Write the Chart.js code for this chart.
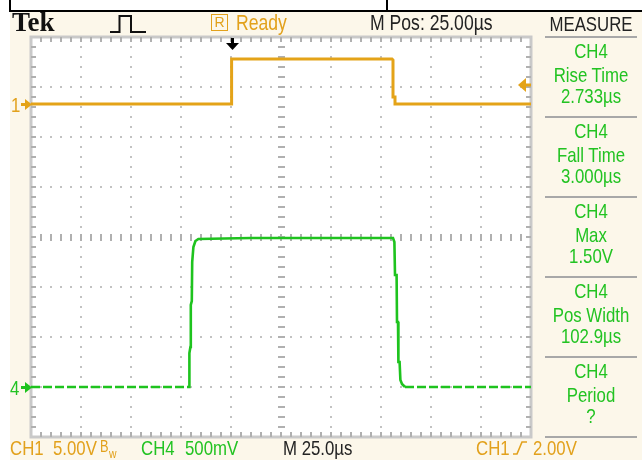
<!DOCTYPE html>
<html>
<head>
<meta charset="utf-8">
<script src="https://cdn.jsdelivr.net/npm/chart.js@4.4.1/dist/chart.umd.min.js"></script>
<style>
  body { margin: 0; background: #fff; }
  #wrap { position: relative; width: 642px; height: 460px; overflow: hidden; }
  #scope { position: absolute; left: 0; top: 0; }
  .t { position: absolute; white-space: nowrap; line-height: 1; transform: scaleX(0.8); transform-origin: 0 0;
       font-family: "Liberation Sans", Arial, sans-serif; }
  .t.c { transform-origin: 50% 0; }
  .rbox { position: absolute; left: 211px; top: 14px; width: 15px; height: 15px; border: 1.5px solid #e2a11c;
          color: #e2a11c; font: 14px/15px "Liberation Sans", sans-serif; text-align: center; }
</style>
</head>
<body>
<div id="wrap">
  <canvas id="scope" width="642" height="460"></canvas>
  <div id="labels"></div>
  <div class="rbox">R</div>
  <svg width="642" height="460" style="position:absolute;left:0;top:0;pointer-events:none">
    <polyline points="110,32 119.5,32 119.5,16 131,16 131,32 146,32" fill="none" stroke="#111" stroke-width="2"/>
    <polyline points="513,454 517,454 522,442 527,442" fill="none" stroke="#e2a11c" stroke-width="1.6"/>
  </svg>
</div>
<script>
// time in µs relative to trigger, 25 µs/div, M Pos 25 µs
const timeDivs = [-100, -75, -50, -25, 0, 25, 50, 75, 100, 125, 150];
// CH4 volts, 500 mV/div (ground 3 div below centre)
const voltDivs = [-0.5, 0, 0.5, 1, 1.5, 2, 2.5, 3, 3.5];

// CH1 trace, 5 V/div
const ch1Time  = [-100, 0, 0.3, 80.5, 81, 81, 82, 82, 150];
const ch1Volts = [0, 0, 4.5, 4.5, 4.4, 0.7, 0.7, 0, 0];

// CH4 trace, 500 mV/div
const ch4Time  = [-100, -21, -20.8, -20.3, -20.1, -19.6, -19.4, -18.8, -17.8, -16.3, 10, 40, 81, 81.7, 82, 82.8, 83, 83.5, 83.7, 84.3, 84.7, 85.5, 87, 150];
const ch4Volts = [0, 0, 0.34, 0.4, 0.82, 0.86, 1.25, 1.4, 1.46, 1.48, 1.49, 1.49, 1.49, 1.45, 1.12, 1.12, 0.65, 0.65, 0.25, 0.25, 0.07, 0.03, 0, 0];

const measureNames  = ['Rise Time', 'Fall Time', 'Max', 'Pos Width', 'Period'];
const measureValues = ['2.733µs', '3.000µs', '1.50V', '102.9µs', '?'];

const ORANGE = '#e4a318';
const ORANGE_TXT = '#e2a11c';
const GREEN = '#1ec31e';
const GREEN_TXT = '#22c322';

const pts = (xs, ys) => xs.map((v, i) => ({ x: v, y: ys[i] }));

const scopeFrame = {
  id: 'scopeFrame',
  beforeDraw(chart) {
    const { ctx, chartArea: a, scales: { x, y4 } } = chart;
    ctx.save();
    ctx.fillStyle = '#fff';
    ctx.fillRect(0, 0, chart.width, chart.height);
    ctx.fillStyle = '#fcf7ea';
    ctx.fillRect(10, 12, chart.width - 10, chart.height - 12);
    ctx.fillStyle = '#fff';
    ctx.fillRect(a.left, a.top, a.width, a.height);
    // bits of the page border caught in the screenshot
    ctx.fillStyle = '#000';
    ctx.fillRect(10, 10, chart.width - 10, 2);
    ctx.fillRect(9, 0, 2, 12);
    ctx.fillRect(386, 0, 2, 12);

    const cx = Math.round(x.getPixelForValue(25));
    const cy = Math.round(y4.getPixelForValue(1.5));
    // dotted division lines
    ctx.fillStyle = '#c2c2c2';
    timeDivs.slice(1, -1).forEach(t => {
      const px = Math.round(x.getPixelForValue(t));
      if (px === cx) return;
      for (let py = a.top + 10; py < a.bottom; py += 10) ctx.fillRect(px - 1, py - 1, 2, 2);
    });
    voltDivs.slice(1, -1).forEach(v => {
      const py = Math.round(y4.getPixelForValue(v));
      if (py === cy) return;
      for (let px = a.left + 10; px < a.right; px += 10) ctx.fillRect(px - 1, py - 1, 2, 2);
    });
    // centre lines with ticks
    ctx.fillStyle = '#b0b0b0';
    for (let py = a.top + 10; py < a.bottom; py += 10) ctx.fillRect(cx - 3, py - 1, 7, 2);
    for (let px = a.left + 10; px < a.right; px += 10) ctx.fillRect(px - 1, cy - 3, 2, 7);
    // border and edge ticks
    ctx.strokeStyle = '#c9c9c9';
    ctx.lineWidth = 3;
    ctx.strokeRect(a.left, a.top, a.width, a.height);
    ctx.fillStyle = '#b0b0b0';
    for (let py = a.top + 10; py < a.bottom; py += 10) {
      ctx.fillRect(a.left, py - 1, 5, 2);
      ctx.fillRect(a.right - 5, py - 1, 5, 2);
    }
    for (let px = a.left + 10; px < a.right; px += 10) {
      ctx.fillRect(px - 1, a.top, 2, 5);
      ctx.fillRect(px - 1, a.bottom - 5, 2, 5);
    }
    ctx.restore();
  },
  afterDatasetsDraw(chart) {
    const { ctx, chartArea: a, scales: { x, y1, y4 } } = chart;
    ctx.save();
    // ground markers
    const mark = (py, col) => {
      ctx.fillStyle = col;
      ctx.fillRect(21, py - 1, 5, 3);
      ctx.beginPath();
      ctx.moveTo(25, py - 5); ctx.lineTo(32, py + 0.5); ctx.lineTo(25, py + 6); ctx.closePath();
      ctx.fill();
    };
    mark(Math.round(y1.getPixelForValue(0)), ORANGE);
    mark(Math.round(y4.getPixelForValue(0)), GREEN);
    // trigger position arrow
    const tx = Math.round(x.getPixelForValue(0)) + 1;
    ctx.fillStyle = '#000';
    ctx.fillRect(tx - 1, a.top + 1, 3, 6);
    ctx.beginPath();
    ctx.moveTo(tx - 6, a.top + 6); ctx.lineTo(tx + 7, a.top + 6); ctx.lineTo(tx + 0.5, a.top + 13); ctx.closePath();
    ctx.fill();
    // trigger level arrow (2.00 V on CH1)
    const ty = Math.round(y1.getPixelForValue(2.0)) + 1;
    ctx.fillStyle = ORANGE;
    ctx.beginPath();
    ctx.moveTo(a.right - 13, ty); ctx.lineTo(a.right - 5, ty - 7); ctx.lineTo(a.right - 5, ty + 7); ctx.closePath();
    ctx.fill();
    ctx.fillRect(a.right - 6, ty - 1.5, 6, 3);
    // measure panel separators
    ctx.fillStyle = '#a8a8a8';
    for (let i = 0; i <= measureNames.length; i++) ctx.fillRect(545, a.top - 1 + i * 80, 92, 2);
    ctx.restore();
  }
};

const chart = new Chart(document.getElementById('scope'), {
  type: 'line',
  data: {
    datasets: [
      {
        label: 'CH1', data: pts(ch1Time, ch1Volts), yAxisID: 'y1',
        borderColor: ORANGE, borderWidth: 3, pointRadius: 0, tension: 0
      },
      {
        label: 'CH4', data: pts(ch4Time, ch4Volts), yAxisID: 'y4',
        borderColor: GREEN, borderWidth: 2.6, pointRadius: 0, tension: 0,
        segment: { borderDash: c => (c.p0.parsed.y === 0 && c.p1.parsed.y === 0) ? [9, 3] : undefined }
      }
    ]
  },
  options: {
    responsive: false,
    devicePixelRatio: 1,
    animation: false,
    layout: { padding: { left: 31, right: 111, top: 37, bottom: 23 } },
    plugins: { legend: { display: false }, tooltip: { enabled: false } },
    scales: {
      x: { type: 'linear', min: -100, max: 150, display: false },
      y1: { min: -33.3, max: 6.7, display: false },
      y4: { min: -0.5, max: 3.5, display: false }
    }
  },
  plugins: [scopeFrame]
});

// text overlays
const labels = document.getElementById('labels');
function label(text, x, base, size, color, opts = {}) {
  const el = document.createElement('div');
  el.className = 't';
  el.textContent = text;
  el.style.fontSize = size + 'px';
  el.style.color = color;
  el.style.top = (base - 0.85 * size) + 'px';
  if (opts.center) {
    el.classList.add('c');
    el.style.left = (x - 70) + 'px';
    el.style.width = '140px';
    el.style.textAlign = 'center';
  } else {
    el.style.left = x + 'px';
  }
  if (opts.font) {
    el.style.fontFamily = opts.font;
    el.style.transform = 'none';
  }
  if (opts.bold) el.style.fontWeight = 'bold';
  labels.appendChild(el);
}

label('Tek', 12, 32, 27, '#111', { font: '"Liberation Serif", "DejaVu Serif", serif', bold: true });
label('Ready', 236, 31, 22, ORANGE_TXT);
label('M Pos: 25.00µs', 370, 31, 22, '#222');
label('MEASURE', 591, 31, 21, '#222', { center: true });

measureNames.forEach((name, i) => {
  const y0 = chart.chartArea.top + i * 80;
  label('CH4', 591, y0 + 21, 21, GREEN_TXT, { center: true });
  label(name, 591, y0 + 45, 21, GREEN_TXT, { center: true });
  label(measureValues[i], 591, y0 + 66, 21, GREEN_TXT, { center: true });
});

const g1 = Math.round(chart.scales.y1.getPixelForValue(0));
const g4 = Math.round(chart.scales.y4.getPixelForValue(0));
label('1', 11, g1 + 8, 21, ORANGE_TXT);
label('4', 10, g4 + 8, 21, GREEN_TXT);

label('CH1', 10, 455, 21, ORANGE_TXT);
label('5.00V', 53, 455, 21, ORANGE_TXT);
label('B', 100, 453, 16, ORANGE_TXT);
label('w', 109, 458, 13, ORANGE_TXT);
label('CH4', 141, 455, 21, GREEN_TXT);
label('500mV', 185, 455, 21, GREEN_TXT);
label('M 25.0µs', 283, 455, 21, '#222');
label('CH1', 476, 455, 21, ORANGE_TXT);
label('2.00V', 533, 455, 21, ORANGE_TXT);
</script>
</body>
</html>
